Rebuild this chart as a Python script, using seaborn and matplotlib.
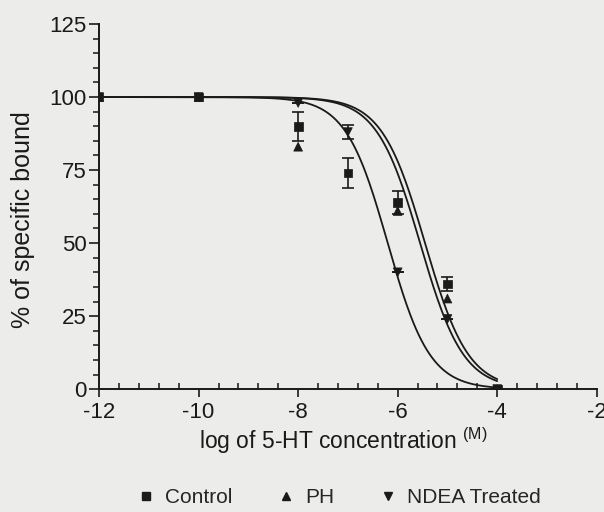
import numpy as np
import pandas as pd
import matplotlib.pyplot as plt
import seaborn as sns
from matplotlib.lines import Line2D
from matplotlib.ticker import MultipleLocator

log_conc = [-12, -10, -8, -7, -6, -5, -4]
control = [100, 100, 90, 74, 64, 36, 0]
control_err = [0, 0, 5, 5, 4, 2.5, 0]
ph = [100, 100, 83, np.nan, 61, 31, 0]
ndea = [100, 100, 98, 88, 40, 24, 0]
ndea_err = [0, 0, 0, 2.5, 0, 0, 0]

groups = ['Control', 'PH', 'NDEA Treated']
markers = {'Control': 's', 'PH': '^', 'NDEA Treated': 'v'}

# fitted one-site curves (logIC50, hill slope)
fit_logic50 = [-5.45, -5.55, -6.2]
fit_slope = [1.0, 1.0, 1.03]

sns.set_style('ticks')
plt.rcParams['font.family'] = ['Liberation Sans', 'DejaVu Sans']
plt.rcParams['axes.unicode_minus'] = False

pts = pd.DataFrame({
    'x': log_conc * 3,
    'y': control + ph + ndea,
    'group': [g for g in groups for _ in log_conc],
}).dropna()

xs = np.linspace(-12, -4, 300)
curves = pd.DataFrame({
    'x': np.tile(xs, 3),
    'y': np.concatenate([100 / (1 + 10 ** ((xs - c) * s)) for c, s in zip(fit_logic50, fit_slope)]),
    'group': np.repeat(groups, len(xs)),
})

ink = '#1a1a1a'
bg = '#ececea'
fig = plt.figure(figsize=(6.04, 5.12), dpi=100, facecolor=bg)
ax = fig.add_axes([0.164, 0.240, 0.824, 0.713])
ax.set_facecolor(bg)

sns.lineplot(data=curves, x='x', y='y', units='group', estimator=None,
             color=ink, lw=1.3, ax=ax, legend=False)
ax.errorbar(log_conc, control, yerr=control_err, fmt='none', ecolor=ink,
            elinewidth=1.2, capsize=4, capthick=1.2)
ax.errorbar(log_conc, ndea, yerr=ndea_err, fmt='none', ecolor=ink,
            elinewidth=1.2, capsize=4, capthick=1.2)
sns.scatterplot(data=pts, x='x', y='y', style='group', markers=markers,
                color=ink, edgecolor=ink, s=40, ax=ax, legend=False, zorder=5)

ax.set_xlim(-12, -2)
ax.set_ylim(0, 125)
ax.xaxis.set_major_locator(MultipleLocator(2))
ax.xaxis.set_minor_locator(MultipleLocator(0.4))
ax.yaxis.set_major_locator(MultipleLocator(25))
ax.yaxis.set_minor_locator(MultipleLocator(5))
ax.tick_params(axis='x', which='major', direction='out', length=6, width=1.2, labelsize=16, colors=ink, pad=3)
ax.tick_params(axis='x', which='minor', direction='in', length=4, width=1.2)
ax.tick_params(axis='y', which='major', direction='out', length=7, width=1.2, labelsize=16, colors=ink, pad=2)
ax.tick_params(axis='y', which='minor', direction='out', length=4, width=1.2)
for s in ['top', 'right']:
    ax.spines[s].set_visible(False)
for s in ['left', 'bottom']:
    ax.spines[s].set_linewidth(1.4)
    ax.spines[s].set_color(ink)

ax.set_xlabel('log of 5-HT concentration $^{\\mathregular{(M)}}$', fontsize=16.5, color=ink)
ax.xaxis.set_label_coords(0.49, -0.10)
ax.set_ylabel('% of specific bound', fontsize=18, color=ink)
ax.yaxis.set_label_coords(-0.128, 0.465)

handles = [Line2D([], [], ls='none', marker=markers[g], color=ink, markersize=6) for g in groups]
fig.legend(handles, groups, loc='center', bbox_to_anchor=(0.56, 0.028), ncol=3, frameon=False,
           fontsize=15, handletextpad=0.4, columnspacing=2.1, handlelength=1.0)

fig.savefig('out.png', dpi=100, facecolor=bg)
